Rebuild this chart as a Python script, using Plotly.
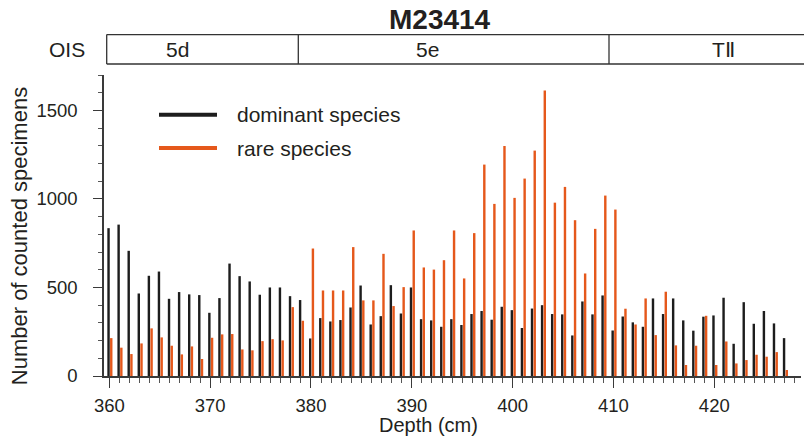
import plotly.graph_objects as go

depth = list(range(360, 428))
dominant = [835, 855, 707, 466, 566, 590, 436, 474, 461, 457,
            357, 440, 635, 564, 534, 459, 500, 500, 451, 429,
            212, 327, 308, 316, 387, 511, 291, 338, 513, 353,
            500, 321, 314, 278, 321, 288, 350, 367, 318, 391,
            372, 271, 381, 400, 350, 348, 229, 421, 348, 455,
            257, 336, 303, 278, 438, 350, 438, 314, 256, 335,
            342, 442, 182, 417, 295, 367, 297, 214]
rare = [214, 160, 124, 184, 269, 218, 171, 122, 167, 96,
        216, 235, 237, 150, 145, 197, 208, 201, 389, 312,
        720, 483, 483, 483, 728, 427, 427, 690, 395, 502,
        822, 613, 601, 654, 822, 551, 807, 1194, 972, 1299,
        1006, 1115, 1273, 1613, 979, 1068, 880, 579, 831, 1019,
        940, 380, 291, 438, 231, 476, 173, 62, 171, 340,
        62, 195, 71, 90, 120, 109, 135, 34]

series_names = ["dominant species", "rare species"]
ois_labels = ["5d", "5e", "TⅡ"]
title_text = "M23414"

BLACK = "#1d1d1d"
ORANGE = "#e5581b"
TXT = "#231f20"
FONT = "Liberation Sans, Arial, Helvetica, sans-serif"

W, H = 804, 438
L, R, T, B = 104, 3, 74.5, 62
pw, ph = W - L - R, H - T - B


def px(x):
    return (x - L) / pw


def py(y):
    return (H - B - y) / ph


fig = go.Figure()
fig.add_trace(go.Bar(x=depth, y=dominant, name=series_names[0], marker_color=BLACK,
                     marker_line_width=0, width=0.24, offset=-0.2, showlegend=False))
fig.add_trace(go.Bar(x=depth, y=rare, name=series_names[1], marker_color=ORANGE,
                     marker_line_width=0, width=0.24, offset=0.07, showlegend=False))

shapes = []
# OIS box
shapes.append(dict(type="line", xref="paper", yref="paper", x0=px(106.7), x1=1.01,
                   y0=py(34), y1=py(34), line=dict(color="#333333", width=1.3)))
shapes.append(dict(type="line", xref="paper", yref="paper", x0=px(106.7), x1=1.01,
                   y0=py(63.5), y1=py(63.5), line=dict(color="#333333", width=1.3)))
for xx in [106.7, 298.3, 609]:
    shapes.append(dict(type="line", xref="paper", yref="paper", x0=px(xx), x1=px(xx),
                       y0=py(63.5), y1=py(34), line=dict(color="#333333", width=1.3)))
# legend lines
shapes.append(dict(type="line", xref="paper", yref="paper", x0=px(159), x1=px(217),
                   y0=py(114.3), y1=py(114.3), line=dict(color=BLACK, width=4)))
shapes.append(dict(type="line", xref="paper", yref="paper", x0=px(159), x1=px(217),
                   y0=py(147.7), y1=py(147.7), line=dict(color=ORANGE, width=4)))

ann = []
ann.append(dict(text=f"<b>{title_text}</b>", x=px(440), y=py(19), xref="paper", yref="paper",
                showarrow=False, xanchor="center", yanchor="middle",
                font=dict(size=28, color=TXT, family=FONT)))
ann.append(dict(text="OIS", x=px(66.5), y=py(48.7), xref="paper", yref="paper",
                showarrow=False, xanchor="center", yanchor="middle",
                font=dict(size=21, color=TXT, family=FONT)))
for lab, cx in zip(ois_labels, [177, 427, 723]):
    ann.append(dict(text=lab, x=px(cx), y=py(48.7), xref="paper", yref="paper",
                    showarrow=False, xanchor="center", yanchor="middle",
                    font=dict(size=21, color=TXT, family=FONT)))
for lab, yy in zip(series_names, [114.3, 147.7]):
    ann.append(dict(text=lab, x=px(235), y=py(yy), xref="paper", yref="paper",
                    showarrow=False, xanchor="left", yanchor="middle",
                    font=dict(size=21, color=TXT, family=FONT)))
ann.append(dict(text="Number of counted specimens", x=px(19), y=py(236), xref="paper", yref="paper",
                showarrow=False, xanchor="center", yanchor="middle", textangle=-90,
                font=dict(size=22, color=TXT, family=FONT)))
ann.append(dict(text="Depth (cm)", x=px(428), y=py(425), xref="paper", yref="paper",
                showarrow=False, xanchor="center", yanchor="middle",
                font=dict(size=20, color=TXT, family=FONT)))

fig.update_layout(
    width=W, height=H,
    margin=dict(l=L, r=R, t=T, b=B, autoexpand=False),
    paper_bgcolor="white", plot_bgcolor="white",
    barmode="overlay",
    shapes=shapes, annotations=ann,
    font=dict(family=FONT, color=TXT),
)
fig.update_xaxes(range=[359.47, 428.6], tickmode="linear", tick0=360, dtick=10,
                 ticks="outside", ticklen=10, tickwidth=1.2, tickcolor="#3a3a3a",
                 showline=True, linecolor="#3a3a3a", linewidth=1.5, showgrid=False,
                 zeroline=False, tickfont=dict(size=18.5, color=TXT), ticklabelstandoff=2,
                 minor=dict(dtick=1, tick0=360, ticks="outside", ticklen=5,
                            tickwidth=1, tickcolor="#555555"))
fig.update_yaxes(range=[0, 1700], tickmode="linear", tick0=0, dtick=500,
                 ticks="outside", ticklen=9, tickwidth=1.2, tickcolor="#3a3a3a",
                 showline=True, linecolor="#3a3a3a", linewidth=1.5, showgrid=False,
                 zeroline=False, tickfont=dict(size=18.5, color=TXT), ticklabelstandoff=12,
                 minor=dict(dtick=100, tick0=0, ticks="outside", ticklen=4,
                            tickwidth=1, tickcolor="#555555"))

fig.write_html("out.html", config={"displayModeBar": False},
               post_script="document.body.style.margin='0';document.body.style.padding='0';")
